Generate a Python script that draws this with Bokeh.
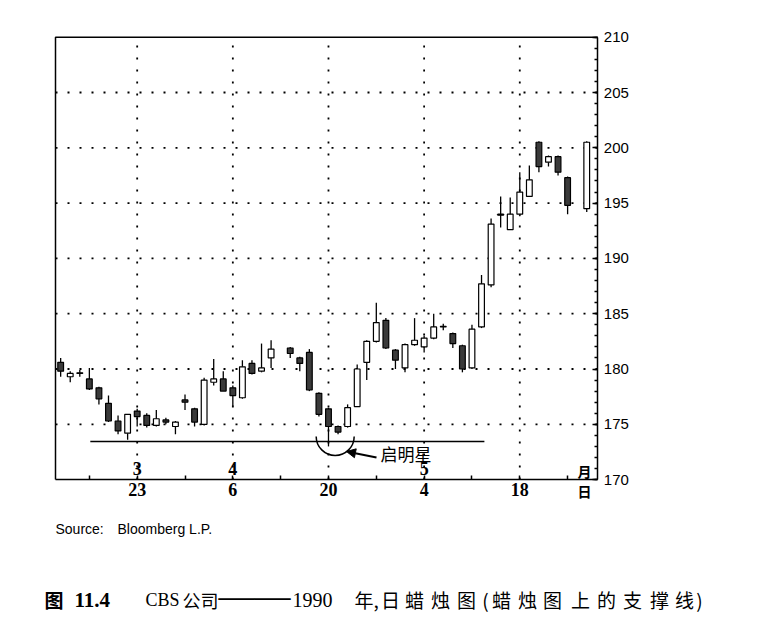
import numpy as np
import pandas as pd
from bokeh.plotting import figure
from bokeh.models import ColumnDataSource, Range1d, FixedTicker, SingleIntervalTicker, Label, Arrow, NormalHead
from bokeh.core.properties import value
from bokeh.embed import file_html
from bokeh.resources import INLINE


# CBS daily candles, 13 Mar - 29 May 1990 (weekday slots, holidays left empty)
start_day, end_day = "1990-03-13", "1990-05-29"
holidays = ["1990-04-13", "1990-05-28"]

opens = [180.6, 179.3, 179.65, 179.1, 178.3, 176.9, 175.3, 174.2, 176.2, 175.8,
         174.9, 175.4, 174.8, 177.2, 176.4, 175.0, 178.8, 179.1, 178.3, 177.4,
         180.5, 179.8, 181.0,
         181.9, 181.0, 181.5, 177.8, 176.4, 174.8, 174.8, 176.6, 180.6,
         182.5, 184.4, 181.7, 180.1, 182.2, 182.0, 182.8, 183.85, 183.2, 182.1,
         180.1, 183.8, 187.6, 194.0, 192.6, 194.0, 195.6, 200.5, 198.7, 199.2,
         197.3,
         194.5]
highs = [181.0, 179.8, 179.9, 180.1, 178.4, 177.6, 175.8, 175.9, 176.4, 176.0,
         176.3, 175.6, 175.3, 177.7, 176.5, 179.2, 180.9, 179.8, 178.5, 180.8,
         180.8, 182.3, 182.6,
         182.0, 181.1, 181.8, 177.9, 176.5, 174.9, 176.8, 180.4, 182.6,
         186.0, 184.6, 181.8, 182.3, 184.6, 183.0, 185.0, 184.1, 183.3, 182.2,
         184.0, 188.5, 193.6, 195.6, 195.5, 197.8, 198.4, 200.6, 199.3, 199.3,
         197.4,
         200.6]
lows = [179.3, 178.8, 179.3, 178.1, 176.8, 175.2, 174.1, 173.6, 174.8, 174.7,
        174.8, 175.0, 174.1, 176.3, 174.8, 174.9, 178.5, 178.0, 176.6, 177.3,
        179.5, 179.7, 180.1,
        181.0, 179.8, 178.0, 175.7, 173.0, 174.1, 174.7, 176.6, 179.0,
        182.4, 181.8, 180.0, 179.7, 182.1, 181.5, 182.7, 183.5, 181.9, 179.7,
        180.0, 183.7, 187.4, 192.8, 192.6, 193.8, 195.6, 197.8, 198.3, 197.5,
        194.0,
        194.2]
closes = [179.8, 179.6, 179.6, 178.2, 177.3, 175.3, 174.4, 175.9, 175.7, 174.9,
          175.5, 175.2, 175.2, 177.0, 175.2, 179.0, 179.1, 178.0, 177.6, 180.2,
          179.6, 180.1, 181.8,
          181.4, 180.5, 178.1, 175.9, 174.8, 174.3, 176.5, 180.0, 182.5,
          184.2, 181.9, 180.8, 182.2, 182.6, 182.8, 183.8, 183.8, 182.3, 180.0,
          183.6, 187.7, 193.1, 193.9, 194.0, 196.0, 197.1, 198.3, 199.2, 197.8,
          194.8,
          200.5]

# axis labels: month on top row, day on bottom row
day_ticks = ["1990-03-23", "1990-04-06", "1990-04-20", "1990-05-04", "1990-05-18"]
day_labels = ["23", "6", "20", "4", "18"]
week_ticks = ["1990-03-16", "1990-03-30", "1990-04-13", "1990-04-27",
              "1990-05-11", "1990-05-25"]
month_ticks = ["1990-03-23", "1990-04-06", "1990-05-04"]
month_labels = ["3", "4", "5"]
price_lo, price_hi = 170, 210
grid_levels = [175, 180, 185, 190, 195, 200, 205]

# support line and morning star marker
support_level = 173.45
support_span = [3.1, 44.3]
star_center = (28.7, 173.9)
star_label = "启明星"

W, H = 760, 630
X_LEFT, X_RIGHT = -0.54, 56.16   # slot positions at the chart's left and right edge


def fx(px):
    # page pixel -> slot position
    return X_LEFT + (px - 55) / 9.565


def fy(py):
    # page pixel -> price
    return price_hi - (py - 36.7) / 11.06


days = pd.bdate_range(start_day, end_day)
slot = {d.strftime("%Y-%m-%d"): i for i, d in enumerate(days)}
trading = [d for d in slot if d not in holidays]
xs = [slot[d] for d in trading]

up = [c >= o for o, c in zip(opens, closes)]
src = ColumnDataSource(dict(
    x=xs, high=highs, low=lows,
    top=[max(o, c) for o, c in zip(opens, closes)],
    bottom=[min(o, c) for o, c in zip(opens, closes)],
    color=["white" if u else "#3a3a3a" for u in up],
))

# the frame covers the whole page so texts below the chart are not clipped;
# the axes sit at fixed locations on the chart box
p = figure(width=W, height=H,
           x_range=Range1d(fx(0), fx(W)), y_range=Range1d(fy(H), fy(0)),
           y_axis_location="right", toolbar_location=None,
           output_backend="svg", min_border=0,
           min_border_left=0, min_border_right=0,
           min_border_top=0, min_border_bottom=0)
p.outline_line_color = None
p.grid.visible = False

# chart box: top and left borders
p.line([X_LEFT, X_LEFT, X_RIGHT], [price_lo, price_hi, price_hi],
       line_color="black", line_width=1.5)

# dotted grid
major = [slot[d] for d in day_ticks]
p.segment(x0=major, y0=[price_lo] * len(major), x1=major, y1=[price_hi] * len(major),
          line_color="black", line_width=1.8, line_dash="2 10")
p.segment(x0=[X_LEFT] * len(grid_levels), y0=grid_levels,
          x1=[X_RIGHT] * len(grid_levels), y1=grid_levels,
          line_color="black", line_width=1.8, line_dash="2 10")

# bottom axis
p.xaxis.fixed_location = price_lo
p.xaxis.bounds = (X_LEFT, X_RIGHT)
p.xaxis.ticker = FixedTicker(ticks=major, minor_ticks=[slot[d] for d in week_ticks])
p.xaxis.major_label_overrides = dict(zip(major, day_labels))
p.xaxis.axis_line_width = 1.5
p.xaxis.major_tick_in = 4
p.xaxis.major_tick_out = 0
p.xaxis.minor_tick_in = 4
p.xaxis.minor_tick_out = 0
p.xaxis.major_tick_line_width = 1.5
p.xaxis.minor_tick_line_width = 1.5
p.xaxis.major_label_standoff = 3
p.xaxis.major_label_text_font = "Liberation Serif"
p.xaxis.major_label_text_font_style = "bold"
p.xaxis.major_label_text_font_size = "18px"
p.xaxis.major_label_text_color = "black"

# right axis
p.yaxis.fixed_location = X_RIGHT
p.yaxis.bounds = (price_lo, price_hi)
p.yaxis.ticker = SingleIntervalTicker(interval=5, num_minor_ticks=5)
p.yaxis.axis_line_width = 1.5
p.yaxis.major_tick_in = 5
p.yaxis.major_tick_out = 0
p.yaxis.minor_tick_in = 3
p.yaxis.minor_tick_out = 0
p.yaxis.major_tick_line_width = 1.5
p.yaxis.minor_tick_line_width = 1.5
p.yaxis.major_label_standoff = 6
p.yaxis.major_label_text_font = "Liberation Sans"
p.yaxis.major_label_text_font_size = "15px"
p.yaxis.major_label_text_color = "black"

# candles
p.segment(x0="x", y0="high", x1="x", y1="low", source=src,
          line_color="black", line_width=1.3)
p.vbar(x="x", width=0.6, top="top", bottom="bottom", source=src,
       fill_color="color", line_color="black", line_width=1.2)

# support line, morning star circle and arrow
p.line(support_span, [support_level] * 2, line_color="black", line_width=1.5)
p.arc(x=[star_center[0]], y=[star_center[1]], radius=19, radius_units="screen",
      start_angle=np.pi, end_angle=2 * np.pi, direction="anticlock",
      line_color="black", line_width=1.5)
p.add_layout(Arrow(end=NormalHead(size=9, fill_color="black", line_color="black"),
                   x_start=fx(376), y_start=fy(457), x_end=fx(346), y_end=fy(451),
                   line_color="black", line_width=2))
p.add_layout(Label(x=fx(380), y=fy(452.5), text=star_label,
                   text_font="Noto Sans CJK SC", text_font_size="17px",
                   text_baseline="middle", text_align="left", text_color="black"))

# month row
p.text(x=[slot[d] for d in month_ticks], y=[fy(468)] * len(month_ticks),
       text=month_labels, text_font=value("Liberation Serif"),
       text_font_style="bold", text_font_size="18px",
       text_align="center", text_baseline="middle", text_color="black")
for t, py in (("月", 470), ("日", 490)):
    p.add_layout(Label(x=fx(584), y=fy(py), text=t, text_font="Noto Sans CJK SC",
                       text_font_style="bold", text_font_size="14px",
                       text_align="center", text_baseline="middle",
                       text_color="black"))

# source line
for t, px in (("Source:", 55), ("Bloomberg L.P.", 117)):
    p.add_layout(Label(x=fx(px), y=fy(528.5), text=t, text_font="Liberation Sans",
                       text_font_size="14px", text_align="left",
                       text_baseline="middle", text_color="black"))

# caption
cjk, serif = "Noto Sans CJK SC", "Liberation Serif"
caption_parts = [("图", 44, cjk, "bold", "19px", 599),
                 ("11.4", 74, serif, "bold", "21px", 599),
                 ("CBS", 145, serif, "normal", "18px", 599),
                 ("公司", 182, cjk, "normal", "18px", 599),
                 ("——", 218, serif, "normal", "36px", 595),
                 ("1990", 292, serif, "normal", "20px", 599),
                 ("年,", 354, cjk, "normal", "19px", 599)]
for t, px, f, st, sz, py in caption_parts:
    p.add_layout(Label(x=fx(px), y=fy(py), text=t, text_font=f,
                       text_font_style=st, text_font_size=sz, text_align="left",
                       text_baseline="middle", text_color="black"))
caption_run = "日蜡烛图(蜡烛图上的支撑线)"
run_centers = [390, 414, 440, 466, 485, 501, 527, 552, 580, 606, 632, 659, 684, 699]
for ch, px in zip(caption_run, run_centers):
    p.add_layout(Label(x=fx(px), y=fy(599), text=ch, text_font=cjk,
                       text_font_size="19px", text_align="center",
                       text_baseline="middle", text_color="black"))

open("out.html", "w").write(file_html(p, INLINE))
